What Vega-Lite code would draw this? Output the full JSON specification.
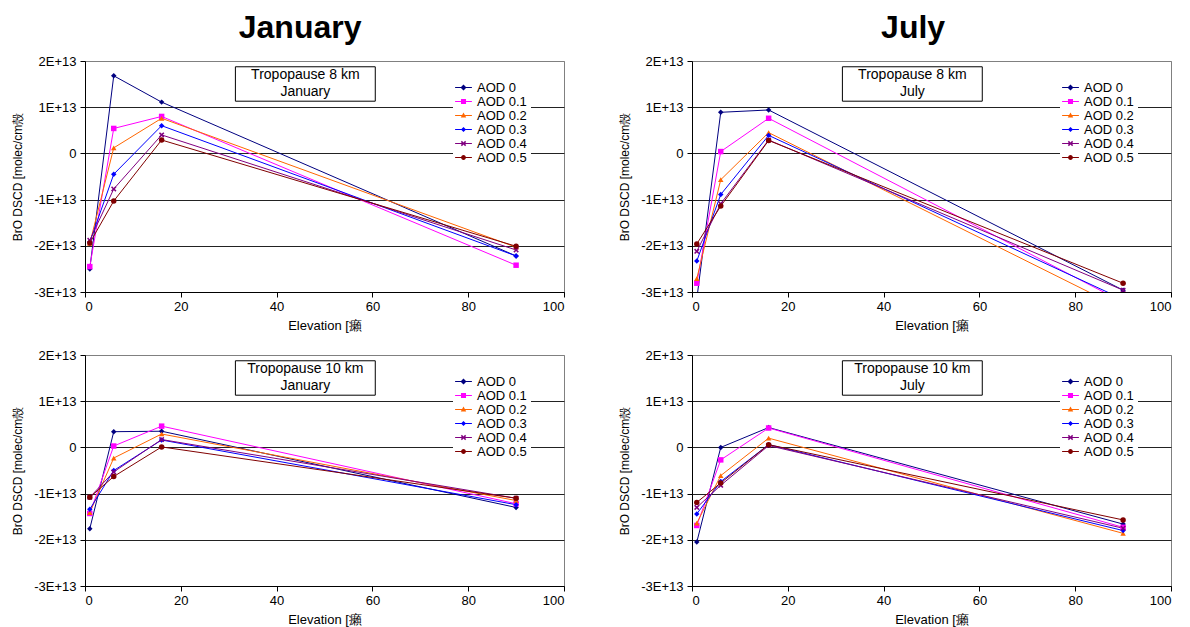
{
  "$schema": "https://vega.github.io/schema/vega-lite/v6.json",
  "background": "white",
  "padding": {"left": 11, "top": 11, "right": 0, "bottom": 0},
  "datasets": {
    "d": [
      {"p":"8J","a":"AOD 0","e":1,"v":-2.50e13},{"p":"8J","a":"AOD 0","e":6,"v":1.68e13},{"p":"8J","a":"AOD 0","e":16,"v":1.11e13},{"p":"8J","a":"AOD 0","e":90,"v":-2.22e13},
      {"p":"8J","a":"AOD 0.1","e":1,"v":-2.45e13},{"p":"8J","a":"AOD 0.1","e":6,"v":0.54e13},{"p":"8J","a":"AOD 0.1","e":16,"v":0.80e13},{"p":"8J","a":"AOD 0.1","e":90,"v":-2.42e13},
      {"p":"8J","a":"AOD 0.2","e":1,"v":-1.95e13},{"p":"8J","a":"AOD 0.2","e":6,"v":0.12e13},{"p":"8J","a":"AOD 0.2","e":16,"v":0.76e13},{"p":"8J","a":"AOD 0.2","e":90,"v":-2.03e13},
      {"p":"8J","a":"AOD 0.3","e":1,"v":-1.92e13},{"p":"8J","a":"AOD 0.3","e":6,"v":-0.45e13},{"p":"8J","a":"AOD 0.3","e":16,"v":0.60e13},{"p":"8J","a":"AOD 0.3","e":90,"v":-2.22e13},
      {"p":"8J","a":"AOD 0.4","e":1,"v":-1.88e13},{"p":"8J","a":"AOD 0.4","e":6,"v":-0.77e13},{"p":"8J","a":"AOD 0.4","e":16,"v":0.40e13},{"p":"8J","a":"AOD 0.4","e":90,"v":-2.09e13},
      {"p":"8J","a":"AOD 0.5","e":1,"v":-1.94e13},{"p":"8J","a":"AOD 0.5","e":6,"v":-1.03e13},{"p":"8J","a":"AOD 0.5","e":16,"v":0.29e13},{"p":"8J","a":"AOD 0.5","e":90,"v":-2.01e13},

      {"p":"8Y","a":"AOD 0","e":1,"v":-3.15e13},{"p":"8Y","a":"AOD 0","e":6,"v":0.89e13},{"p":"8Y","a":"AOD 0","e":16,"v":0.94e13},{"p":"8Y","a":"AOD 0","e":90,"v":-2.96e13},
      {"p":"8Y","a":"AOD 0.1","e":1,"v":-2.81e13},{"p":"8Y","a":"AOD 0.1","e":6,"v":0.04e13},{"p":"8Y","a":"AOD 0.1","e":16,"v":0.76e13},{"p":"8Y","a":"AOD 0.1","e":90,"v":-3.22e13},
      {"p":"8Y","a":"AOD 0.2","e":1,"v":-2.71e13},{"p":"8Y","a":"AOD 0.2","e":6,"v":-0.57e13},{"p":"8Y","a":"AOD 0.2","e":16,"v":0.45e13},{"p":"8Y","a":"AOD 0.2","e":90,"v":-3.37e13},
      {"p":"8Y","a":"AOD 0.3","e":1,"v":-2.33e13},{"p":"8Y","a":"AOD 0.3","e":6,"v":-0.89e13},{"p":"8Y","a":"AOD 0.3","e":16,"v":0.39e13},{"p":"8Y","a":"AOD 0.3","e":90,"v":-3.16e13},
      {"p":"8Y","a":"AOD 0.4","e":1,"v":-2.12e13},{"p":"8Y","a":"AOD 0.4","e":6,"v":-1.09e13},{"p":"8Y","a":"AOD 0.4","e":16,"v":0.29e13},{"p":"8Y","a":"AOD 0.4","e":90,"v":-2.96e13},
      {"p":"8Y","a":"AOD 0.5","e":1,"v":-1.96e13},{"p":"8Y","a":"AOD 0.5","e":6,"v":-1.14e13},{"p":"8Y","a":"AOD 0.5","e":16,"v":0.28e13},{"p":"8Y","a":"AOD 0.5","e":90,"v":-2.81e13},

      {"p":"10J","a":"AOD 0","e":1,"v":-1.76e13},{"p":"10J","a":"AOD 0","e":6,"v":0.34e13},{"p":"10J","a":"AOD 0","e":16,"v":0.35e13},{"p":"10J","a":"AOD 0","e":90,"v":-1.30e13},
      {"p":"10J","a":"AOD 0.1","e":1,"v":-1.43e13},{"p":"10J","a":"AOD 0.1","e":6,"v":0.03e13},{"p":"10J","a":"AOD 0.1","e":16,"v":0.46e13},{"p":"10J","a":"AOD 0.1","e":90,"v":-1.22e13},
      {"p":"10J","a":"AOD 0.2","e":1,"v":-1.41e13},{"p":"10J","a":"AOD 0.2","e":6,"v":-0.23e13},{"p":"10J","a":"AOD 0.2","e":16,"v":0.29e13},{"p":"10J","a":"AOD 0.2","e":90,"v":-1.15e13},
      {"p":"10J","a":"AOD 0.3","e":1,"v":-1.34e13},{"p":"10J","a":"AOD 0.3","e":6,"v":-0.50e13},{"p":"10J","a":"AOD 0.3","e":16,"v":0.16e13},{"p":"10J","a":"AOD 0.3","e":90,"v":-1.24e13},
      {"p":"10J","a":"AOD 0.4","e":1,"v":-1.08e13},{"p":"10J","a":"AOD 0.4","e":6,"v":-0.53e13},{"p":"10J","a":"AOD 0.4","e":16,"v":0.17e13},{"p":"10J","a":"AOD 0.4","e":90,"v":-1.10e13},
      {"p":"10J","a":"AOD 0.5","e":1,"v":-1.08e13},{"p":"10J","a":"AOD 0.5","e":6,"v":-0.63e13},{"p":"10J","a":"AOD 0.5","e":16,"v":0.01e13},{"p":"10J","a":"AOD 0.5","e":90,"v":-1.10e13},

      {"p":"10Y","a":"AOD 0","e":1,"v":-2.05e13},{"p":"10Y","a":"AOD 0","e":6,"v":0.00e13},{"p":"10Y","a":"AOD 0","e":16,"v":0.43e13},{"p":"10Y","a":"AOD 0","e":90,"v":-1.66e13},
      {"p":"10Y","a":"AOD 0.1","e":1,"v":-1.69e13},{"p":"10Y","a":"AOD 0.1","e":6,"v":-0.27e13},{"p":"10Y","a":"AOD 0.1","e":16,"v":0.42e13},{"p":"10Y","a":"AOD 0.1","e":90,"v":-1.73e13},
      {"p":"10Y","a":"AOD 0.2","e":1,"v":-1.64e13},{"p":"10Y","a":"AOD 0.2","e":6,"v":-0.61e13},{"p":"10Y","a":"AOD 0.2","e":16,"v":0.20e13},{"p":"10Y","a":"AOD 0.2","e":90,"v":-1.86e13},
      {"p":"10Y","a":"AOD 0.3","e":1,"v":-1.44e13},{"p":"10Y","a":"AOD 0.3","e":6,"v":-0.74e13},{"p":"10Y","a":"AOD 0.3","e":16,"v":0.06e13},{"p":"10Y","a":"AOD 0.3","e":90,"v":-1.80e13},
      {"p":"10Y","a":"AOD 0.4","e":1,"v":-1.30e13},{"p":"10Y","a":"AOD 0.4","e":6,"v":-0.82e13},{"p":"10Y","a":"AOD 0.4","e":16,"v":0.04e13},{"p":"10Y","a":"AOD 0.4","e":90,"v":-1.75e13},
      {"p":"10Y","a":"AOD 0.5","e":1,"v":-1.19e13},{"p":"10Y","a":"AOD 0.5","e":6,"v":-0.77e13},{"p":"10Y","a":"AOD 0.5","e":16,"v":0.06e13},{"p":"10Y","a":"AOD 0.5","e":90,"v":-1.57e13}
    ]
  },
  "hconcat": [
    {
      "title": {"text": "January", "dx": 12},
      "spacing": 15,
      "resolve": {"legend": {"color": "independent", "shape": "independent"}},
      "vconcat": [
        {
          "width": 479, "height": 231,
          "layer": [
            {"data": {"name": "d"}, "transform": [{"filter": "datum.p == 'none'"}],
             "mark": {"type": "point", "filled": true, "opacity": 1, "size": 144},
             "encoding": {
               "color": {"field": "a", "type": "nominal", "scale": {"domain": ["AOD 0", "AOD 0.1", "AOD 0.2", "AOD 0.3", "AOD 0.4", "AOD 0.5"], "range": ["#000080", "#FF00FF", "#FF6600", "#0000FF", "#800080", "#800000"]}, "legend": {"title": null, "labelExpr": "datum.label + '        '"}},
               "shape": {"field": "a", "type": "nominal", "scale": {"domain": ["AOD 0", "AOD 0.1", "AOD 0.2", "AOD 0.3", "AOD 0.4", "AOD 0.5"], "range": ["M-1.4,-0.08H1.4V0.08H-1.4ZM0,-0.5L0.5,0L0,0.5L-0.5,0Z", "M-1.4,-0.08H1.4V0.08H-1.4ZM-0.42,-0.42H0.42V0.42H-0.42Z", "M-1.4,-0.08H1.4V0.08H-1.4ZM0,-0.5L0.46,0.33H-0.46Z", "M-1.4,-0.08H1.4V0.08H-1.4ZM0,-0.42L0.42,0L0,0.42L-0.42,0Z", "M-1.4,-0.08H1.4V0.08H-1.4ZM-0.45,-0.27L-0.27,-0.45L0,-0.18L0.27,-0.45L0.45,-0.27L0.18,0L0.45,0.27L0.27,0.45L0,0.18L-0.27,0.45L-0.45,0.27L-0.18,0Z", "M-1.4,-0.08H1.4V0.08H-1.4ZM-0.4,0A0.4,0.4,0,1,1,0.4,0A0.4,0.4,0,1,1,-0.4,0Z"]}, "legend": {"title": null, "labelExpr": "datum.label + '        '"}}
             }},
            {"data": {"name": "d"}, "transform": [{"filter": "datum.p == '8J'"}],
             "mark": {"type": "line", "strokeWidth": 1, "clip": true},
             "encoding": {
               "x": {"field": "e", "type": "quantitative", "scale": {"domain": [0, 100], "nice": false}, "axis": {"title": "Elevation [癩", "values": [0, 20, 40, 60, 80, 100], "grid": false, "labelPadding": 3, "titlePadding": 6, "titleFontSize": 13}},
               "y": {"field": "v", "type": "quantitative", "scale": {"domain": [-3e13, 2e13], "nice": false, "zero": false}, "axis": {"title": "BrO DSCD [molec/cm殼", "values": [-3e13, -2e13, -1e13, 0, 1e13, 2e13], "labelExpr": "datum.value == 0 ? '0' : (datum.value / 1e13) + 'E+13'", "grid": true, "gridColor": {"condition": {"test": "datum.value > 1.5e13", "value": "#808080"}, "value": "#222222"}, "labelPadding": 4, "titlePadding": 9, "titleFontSize": 12}},
               "color": {"field": "a", "type": "nominal"}
             }},
            {"data": {"name": "d"}, "transform": [{"filter": "datum.p == '8J'"}, {"calculate": "datum.a == 'AOD 0' ? 'diamond' : datum.a == 'AOD 0.1' ? 'square' : datum.a == 'AOD 0.2' ? 'triangle-up' : datum.a == 'AOD 0.3' ? 'diamond' : datum.a == 'AOD 0.4' ? 'M-1,-0.6L-0.6,-1L0,-0.4L0.6,-1L1,-0.6L0.4,0L1,0.6L0.6,1L0,0.4L-0.6,1L-1,0.6L-0.4,0Z' : 'circle'", "as": "shp"}],
             "mark": {"type": "point", "filled": true, "opacity": 1, "size": 30, "clip": true},
             "encoding": {
               "x": {"field": "e", "type": "quantitative"},
               "y": {"field": "v", "type": "quantitative"},
               "color": {"field": "a", "type": "nominal"},
               "shape": {"field": "shp", "type": "nominal", "scale": null}
             }},
            {"data": {"values": [{}]},
             "mark": {"type": "rect", "fill": "white", "stroke": "#000000", "strokeWidth": 1},
             "encoding": {"x": {"datum": 31.4, "type": "quantitative"}, "x2": {"datum": 60.6}, "y": {"datum": 1.875e13, "type": "quantitative"}, "y2": {"datum": 1.13e13}}},
            {"data": {"values": [{}]},
             "mark": {"type": "text", "font": "Liberation Sans", "fontSize": 14, "lineHeight": 17, "align": "center", "baseline": "middle", "color": "#000000"},
             "encoding": {"x": {"datum": 46, "type": "quantitative"}, "y": {"datum": 1.69e13, "type": "quantitative"}, "text": {"value": ["Tropopause 8 km", "January"]}}}
          ]
        },
        {
          "width": 479, "height": 231,
          "layer": [
            {"data": {"name": "d"}, "transform": [{"filter": "datum.p == 'none'"}],
             "mark": {"type": "point", "filled": true, "opacity": 1, "size": 144},
             "encoding": {
               "color": {"field": "a", "type": "nominal", "legend": {"title": null, "labelExpr": "datum.label + '        '"}},
               "shape": {"field": "a", "type": "nominal", "scale": {"domain": ["AOD 0", "AOD 0.1", "AOD 0.2", "AOD 0.3", "AOD 0.4", "AOD 0.5"], "range": ["M-1.4,-0.08H1.4V0.08H-1.4ZM0,-0.5L0.5,0L0,0.5L-0.5,0Z", "M-1.4,-0.08H1.4V0.08H-1.4ZM-0.42,-0.42H0.42V0.42H-0.42Z", "M-1.4,-0.08H1.4V0.08H-1.4ZM0,-0.5L0.46,0.33H-0.46Z", "M-1.4,-0.08H1.4V0.08H-1.4ZM0,-0.42L0.42,0L0,0.42L-0.42,0Z", "M-1.4,-0.08H1.4V0.08H-1.4ZM-0.45,-0.27L-0.27,-0.45L0,-0.18L0.27,-0.45L0.45,-0.27L0.18,0L0.45,0.27L0.27,0.45L0,0.18L-0.27,0.45L-0.45,0.27L-0.18,0Z", "M-1.4,-0.08H1.4V0.08H-1.4ZM-0.4,0A0.4,0.4,0,1,1,0.4,0A0.4,0.4,0,1,1,-0.4,0Z"]}, "legend": {"title": null, "labelExpr": "datum.label + '        '"}}
             }},
            {"data": {"name": "d"}, "transform": [{"filter": "datum.p == '10J'"}],
             "mark": {"type": "line", "strokeWidth": 1, "clip": true},
             "encoding": {
               "x": {"field": "e", "type": "quantitative", "scale": {"domain": [0, 100], "nice": false}, "axis": {"title": "Elevation [癩", "values": [0, 20, 40, 60, 80, 100], "grid": false, "labelPadding": 3, "titlePadding": 6, "titleFontSize": 13}},
               "y": {"field": "v", "type": "quantitative", "scale": {"domain": [-3e13, 2e13], "nice": false, "zero": false}, "axis": {"title": "BrO DSCD [molec/cm殼", "values": [-3e13, -2e13, -1e13, 0, 1e13, 2e13], "labelExpr": "datum.value == 0 ? '0' : (datum.value / 1e13) + 'E+13'", "grid": true, "gridColor": {"condition": {"test": "datum.value > 1.5e13", "value": "#808080"}, "value": "#222222"}, "labelPadding": 4, "titlePadding": 9, "titleFontSize": 12}},
               "color": {"field": "a", "type": "nominal"}
             }},
            {"data": {"name": "d"}, "transform": [{"filter": "datum.p == '10J'"}, {"calculate": "datum.a == 'AOD 0' ? 'diamond' : datum.a == 'AOD 0.1' ? 'square' : datum.a == 'AOD 0.2' ? 'triangle-up' : datum.a == 'AOD 0.3' ? 'diamond' : datum.a == 'AOD 0.4' ? 'M-1,-0.6L-0.6,-1L0,-0.4L0.6,-1L1,-0.6L0.4,0L1,0.6L0.6,1L0,0.4L-0.6,1L-1,0.6L-0.4,0Z' : 'circle'", "as": "shp"}],
             "mark": {"type": "point", "filled": true, "opacity": 1, "size": 30, "clip": true},
             "encoding": {
               "x": {"field": "e", "type": "quantitative"},
               "y": {"field": "v", "type": "quantitative"},
               "color": {"field": "a", "type": "nominal"},
               "shape": {"field": "shp", "type": "nominal", "scale": null}
             }},
            {"data": {"values": [{}]},
             "mark": {"type": "rect", "fill": "white", "stroke": "#000000", "strokeWidth": 1},
             "encoding": {"x": {"datum": 31.4, "type": "quantitative"}, "x2": {"datum": 60.6}, "y": {"datum": 1.875e13, "type": "quantitative"}, "y2": {"datum": 1.13e13}}},
            {"data": {"values": [{}]},
             "mark": {"type": "text", "font": "Liberation Sans", "fontSize": 14, "lineHeight": 17, "align": "center", "baseline": "middle", "color": "#000000"},
             "encoding": {"x": {"datum": 46, "type": "quantitative"}, "y": {"datum": 1.69e13, "type": "quantitative"}, "text": {"value": ["Tropopause 10 km", "January"]}}}
          ]
        }
      ]
    },
    {
      "title": {"text": "July", "dx": 18},
      "spacing": 15,
      "resolve": {"legend": {"color": "independent", "shape": "independent"}},
      "vconcat": [
        {
          "width": 479, "height": 231,
          "layer": [
            {"data": {"name": "d"}, "transform": [{"filter": "datum.p == 'none'"}],
             "mark": {"type": "point", "filled": true, "opacity": 1, "size": 144},
             "encoding": {
               "color": {"field": "a", "type": "nominal", "legend": {"title": null, "labelExpr": "datum.label + '        '"}},
               "shape": {"field": "a", "type": "nominal", "scale": {"domain": ["AOD 0", "AOD 0.1", "AOD 0.2", "AOD 0.3", "AOD 0.4", "AOD 0.5"], "range": ["M-1.4,-0.08H1.4V0.08H-1.4ZM0,-0.5L0.5,0L0,0.5L-0.5,0Z", "M-1.4,-0.08H1.4V0.08H-1.4ZM-0.42,-0.42H0.42V0.42H-0.42Z", "M-1.4,-0.08H1.4V0.08H-1.4ZM0,-0.5L0.46,0.33H-0.46Z", "M-1.4,-0.08H1.4V0.08H-1.4ZM0,-0.42L0.42,0L0,0.42L-0.42,0Z", "M-1.4,-0.08H1.4V0.08H-1.4ZM-0.45,-0.27L-0.27,-0.45L0,-0.18L0.27,-0.45L0.45,-0.27L0.18,0L0.45,0.27L0.27,0.45L0,0.18L-0.27,0.45L-0.45,0.27L-0.18,0Z", "M-1.4,-0.08H1.4V0.08H-1.4ZM-0.4,0A0.4,0.4,0,1,1,0.4,0A0.4,0.4,0,1,1,-0.4,0Z"]}, "legend": {"title": null, "labelExpr": "datum.label + '        '"}}
             }},
            {"data": {"name": "d"}, "transform": [{"filter": "datum.p == '8Y'"}],
             "mark": {"type": "line", "strokeWidth": 1, "clip": true},
             "encoding": {
               "x": {"field": "e", "type": "quantitative", "scale": {"domain": [0, 100], "nice": false}, "axis": {"title": "Elevation [癩", "values": [0, 20, 40, 60, 80, 100], "grid": false, "labelPadding": 3, "titlePadding": 6, "titleFontSize": 13}},
               "y": {"field": "v", "type": "quantitative", "scale": {"domain": [-3e13, 2e13], "nice": false, "zero": false}, "axis": {"title": "BrO DSCD [molec/cm殼", "values": [-3e13, -2e13, -1e13, 0, 1e13, 2e13], "labelExpr": "datum.value == 0 ? '0' : (datum.value / 1e13) + 'E+13'", "grid": true, "gridColor": {"condition": {"test": "datum.value > 1.5e13", "value": "#808080"}, "value": "#222222"}, "labelPadding": 4, "titlePadding": 9, "titleFontSize": 12}},
               "color": {"field": "a", "type": "nominal"}
             }},
            {"data": {"name": "d"}, "transform": [{"filter": "datum.p == '8Y'"}, {"calculate": "datum.a == 'AOD 0' ? 'diamond' : datum.a == 'AOD 0.1' ? 'square' : datum.a == 'AOD 0.2' ? 'triangle-up' : datum.a == 'AOD 0.3' ? 'diamond' : datum.a == 'AOD 0.4' ? 'M-1,-0.6L-0.6,-1L0,-0.4L0.6,-1L1,-0.6L0.4,0L1,0.6L0.6,1L0,0.4L-0.6,1L-1,0.6L-0.4,0Z' : 'circle'", "as": "shp"}],
             "mark": {"type": "point", "filled": true, "opacity": 1, "size": 30, "clip": true},
             "encoding": {
               "x": {"field": "e", "type": "quantitative"},
               "y": {"field": "v", "type": "quantitative"},
               "color": {"field": "a", "type": "nominal"},
               "shape": {"field": "shp", "type": "nominal", "scale": null}
             }},
            {"data": {"values": [{}]},
             "mark": {"type": "rect", "fill": "white", "stroke": "#000000", "strokeWidth": 1},
             "encoding": {"x": {"datum": 31.4, "type": "quantitative"}, "x2": {"datum": 60.6}, "y": {"datum": 1.875e13, "type": "quantitative"}, "y2": {"datum": 1.13e13}}},
            {"data": {"values": [{}]},
             "mark": {"type": "text", "font": "Liberation Sans", "fontSize": 14, "lineHeight": 17, "align": "center", "baseline": "middle", "color": "#000000"},
             "encoding": {"x": {"datum": 46, "type": "quantitative"}, "y": {"datum": 1.69e13, "type": "quantitative"}, "text": {"value": ["Tropopause 8 km", "July"]}}}
          ]
        },
        {
          "width": 479, "height": 231,
          "layer": [
            {"data": {"name": "d"}, "transform": [{"filter": "datum.p == 'none'"}],
             "mark": {"type": "point", "filled": true, "opacity": 1, "size": 144},
             "encoding": {
               "color": {"field": "a", "type": "nominal", "legend": {"title": null, "labelExpr": "datum.label + '        '"}},
               "shape": {"field": "a", "type": "nominal", "scale": {"domain": ["AOD 0", "AOD 0.1", "AOD 0.2", "AOD 0.3", "AOD 0.4", "AOD 0.5"], "range": ["M-1.4,-0.08H1.4V0.08H-1.4ZM0,-0.5L0.5,0L0,0.5L-0.5,0Z", "M-1.4,-0.08H1.4V0.08H-1.4ZM-0.42,-0.42H0.42V0.42H-0.42Z", "M-1.4,-0.08H1.4V0.08H-1.4ZM0,-0.5L0.46,0.33H-0.46Z", "M-1.4,-0.08H1.4V0.08H-1.4ZM0,-0.42L0.42,0L0,0.42L-0.42,0Z", "M-1.4,-0.08H1.4V0.08H-1.4ZM-0.45,-0.27L-0.27,-0.45L0,-0.18L0.27,-0.45L0.45,-0.27L0.18,0L0.45,0.27L0.27,0.45L0,0.18L-0.27,0.45L-0.45,0.27L-0.18,0Z", "M-1.4,-0.08H1.4V0.08H-1.4ZM-0.4,0A0.4,0.4,0,1,1,0.4,0A0.4,0.4,0,1,1,-0.4,0Z"]}, "legend": {"title": null, "labelExpr": "datum.label + '        '"}}
             }},
            {"data": {"name": "d"}, "transform": [{"filter": "datum.p == '10Y'"}],
             "mark": {"type": "line", "strokeWidth": 1, "clip": true},
             "encoding": {
               "x": {"field": "e", "type": "quantitative", "scale": {"domain": [0, 100], "nice": false}, "axis": {"title": "Elevation [癩", "values": [0, 20, 40, 60, 80, 100], "grid": false, "labelPadding": 3, "titlePadding": 6, "titleFontSize": 13}},
               "y": {"field": "v", "type": "quantitative", "scale": {"domain": [-3e13, 2e13], "nice": false, "zero": false}, "axis": {"title": "BrO DSCD [molec/cm殼", "values": [-3e13, -2e13, -1e13, 0, 1e13, 2e13], "labelExpr": "datum.value == 0 ? '0' : (datum.value / 1e13) + 'E+13'", "grid": true, "gridColor": {"condition": {"test": "datum.value > 1.5e13", "value": "#808080"}, "value": "#222222"}, "labelPadding": 4, "titlePadding": 9, "titleFontSize": 12}},
               "color": {"field": "a", "type": "nominal"}
             }},
            {"data": {"name": "d"}, "transform": [{"filter": "datum.p == '10Y'"}, {"calculate": "datum.a == 'AOD 0' ? 'diamond' : datum.a == 'AOD 0.1' ? 'square' : datum.a == 'AOD 0.2' ? 'triangle-up' : datum.a == 'AOD 0.3' ? 'diamond' : datum.a == 'AOD 0.4' ? 'M-1,-0.6L-0.6,-1L0,-0.4L0.6,-1L1,-0.6L0.4,0L1,0.6L0.6,1L0,0.4L-0.6,1L-1,0.6L-0.4,0Z' : 'circle'", "as": "shp"}],
             "mark": {"type": "point", "filled": true, "opacity": 1, "size": 30, "clip": true},
             "encoding": {
               "x": {"field": "e", "type": "quantitative"},
               "y": {"field": "v", "type": "quantitative"},
               "color": {"field": "a", "type": "nominal"},
               "shape": {"field": "shp", "type": "nominal", "scale": null}
             }},
            {"data": {"values": [{}]},
             "mark": {"type": "rect", "fill": "white", "stroke": "#000000", "strokeWidth": 1},
             "encoding": {"x": {"datum": 31.4, "type": "quantitative"}, "x2": {"datum": 60.6}, "y": {"datum": 1.875e13, "type": "quantitative"}, "y2": {"datum": 1.13e13}}},
            {"data": {"values": [{}]},
             "mark": {"type": "text", "font": "Liberation Sans", "fontSize": 14, "lineHeight": 17, "align": "center", "baseline": "middle", "color": "#000000"},
             "encoding": {"x": {"datum": 46, "type": "quantitative"}, "y": {"datum": 1.69e13, "type": "quantitative"}, "text": {"value": ["Tropopause 10 km", "July"]}}}
          ]
        }
      ]
    }
  ],
  "spacing": 53,
  "resolve": {"legend": {"color": "independent", "shape": "independent"}},
  "config": {
    "font": "Liberation Sans",
    "view": {"stroke": "#808080", "strokeWidth": 1},
    "axis": {"domainColor": "#000000", "tickColor": "#000000", "labelColor": "#000000", "titleColor": "#000000", "labelFont": "Liberation Sans", "titleFont": "Liberation Sans", "labelFontSize": 13, "titleFontWeight": "normal", "tickSize": 5, "gridWidth": 1},
    "legend": {"orient": "none", "legendX": 368, "legendY": 16, "fillColor": "white", "padding": 4, "rowPadding": 0, "labelOffset": 7, "labelFontSize": 13, "labelFont": "Liberation Sans", "labelColor": "#000000", "symbolSize": 144, "symbolStrokeWidth": 0},
    "title": {"font": "Liberation Sans", "fontSize": 32, "fontWeight": "bold", "color": "#000000", "anchor": "middle", "offset": 10}
  }
}
